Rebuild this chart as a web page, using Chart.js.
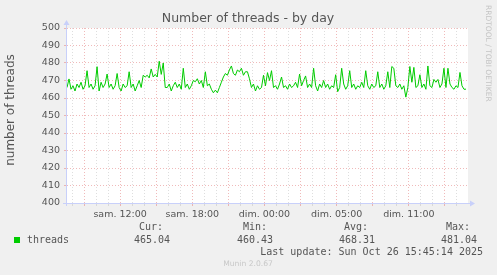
<!DOCTYPE html>
<html>
<head>
<meta charset="utf-8">
<script src="https://cdn.jsdelivr.net/npm/chart.js@4.4.0/dist/chart.umd.min.js"></script>
<style>
html, body { margin: 0; padding: 0; background: #F0F0F0; }
canvas { display: block; }
</style>
</head>
<body>
<canvas id="threadsChart" width="497" height="275"></canvas>
<script>
// one value every 10 minutes (2 steps of 5 min), left to right
var threadValues = [
  466, 470.9, 465, 467, 464, 468, 466, 469, 465, 467,
  475.6, 466, 468, 465, 467, 477.9, 464, 469, 466, 468,
  473.7, 466, 468, 465, 467, 474, 466, 464, 468, 466,
  467, 475, 466, 468, 464, 467, 470, 466, 473, 472,
  473, 471.5, 476.6, 472, 473.5, 472, 481, 473.5, 480, 466,
  466, 468, 464, 467, 469, 466, 468, 465, 477, 466,
  468, 465, 467, 470, 469.3, 471, 468, 470, 466, 475,
  467, 468, 465, 463, 464.5, 463, 466, 469, 472, 474,
  473, 476, 478.3, 474, 473, 476, 475, 477, 473, 475,
  475, 471, 466, 468, 464, 467, 465, 466, 473, 467,
  474.5, 470, 475.6, 466, 467, 465, 468, 472, 466, 467,
  465, 468, 466, 467, 469, 466, 473.7, 467, 470, 472.6,
  466, 468, 466, 477, 467, 464, 468, 466, 470, 466,
  468, 465, 467, 466, 473.3, 463.6, 466, 477, 468, 465,
  467, 475.6, 466, 468, 465, 467, 466, 469, 466, 475.6,
  467, 465, 468, 466, 467, 475, 466, 468, 465, 467,
  475, 466, 478, 477, 467, 466, 468, 465, 467, 460.5,
  466, 478, 469, 477.5, 466, 467, 473.3, 466, 468, 465,
  478.3, 467, 466, 470.6, 469, 470.6, 466, 468, 477, 466,
  477, 468, 466, 465, 467, 466, 474.6, 467, 465, 465.04
];
var xTickLabels = ['sam. 12:00', 'sam. 18:00', 'dim. 00:00', 'dim. 05:00', 'dim. 11:00'];
var xLabelSteps = [53, 125, 197, 269, 341];   // 5-minute steps from the left edge
var statNames = ['Cur:', 'Min:', 'Avg:', 'Max:'];
var statValues = ['465.04', '460.43', '468.31', '481.04'];
var seriesName = 'threads';
var lastUpdate = 'Last update: Sun Oct 26 15:45:14 2025';

var RED = 'rgba(230,140,140,0.6)';
var GREY = 'rgba(200,200,200,0.6)';
var AXIS = '#C8D0FA';
var TXT = '#555555';

var points = threadValues.map(function (v, i) { return { x: i * 2, y: v }; });

function isMajorX(v) { return (v - 17) % 36 === 0; }

var muninPlugin = {
  id: 'munin',
  beforeDraw: function (chart) {
    var a = chart.chartArea, ctx = chart.ctx;
    ctx.save();
    ctx.fillStyle = '#FFFFFF';
    ctx.fillRect(a.left, a.top, a.right - a.left, a.bottom - a.top);
    ctx.restore();
  },
  afterDraw: function (chart) {
    var a = chart.chartArea, ctx = chart.ctx;
    ctx.save();
    // axes with arrows
    ctx.strokeStyle = AXIS;
    ctx.fillStyle = AXIS;
    ctx.lineWidth = 1;
    ctx.beginPath();
    ctx.moveTo(a.left - 0.5, a.bottom + 3);
    ctx.lineTo(a.left - 0.5, a.top - 4);
    ctx.moveTo(a.left - 4, a.bottom + 0.5);
    ctx.lineTo(a.right + 3, a.bottom + 0.5);
    ctx.stroke();
    ctx.beginPath();
    ctx.moveTo(a.left - 3.5, a.top - 3);
    ctx.lineTo(a.left + 2.5, a.top - 3);
    ctx.lineTo(a.left - 0.5, a.top - 8);
    ctx.closePath();
    ctx.fill();
    ctx.beginPath();
    ctx.moveTo(a.right + 2, a.bottom - 2.5);
    ctx.lineTo(a.right + 2, a.bottom + 3.5);
    ctx.lineTo(a.right + 7, a.bottom + 0.5);
    ctx.closePath();
    ctx.fill();

    // title
    ctx.fillStyle = TXT;
    ctx.textBaseline = 'middle';
    ctx.textAlign = 'center';
    ctx.font = '12.5px "DejaVu Sans"';
    ctx.fillText('Number of threads - by day', 248, 19);

    // y axis title
    ctx.save();
    ctx.translate(11, 110);
    ctx.rotate(-Math.PI / 2);
    ctx.font = '12px "DejaVu Sans"';
    ctx.fillText('number of threads', 0, 0);
    ctx.restore();

    // side watermark
    ctx.save();
    ctx.translate(488, 5);
    ctx.rotate(Math.PI / 2);
    ctx.textAlign = 'left';
    ctx.fillStyle = '#C4C4C4';
    ctx.font = '7.5px "DejaVu Sans"';
    ctx.fillText('RRDTOOL / TOBI OETIKER', 0, 0);
    ctx.restore();

    // legend & stats
    ctx.font = '10px "DejaVu Sans Mono"';
    ctx.fillStyle = TXT;
    var labelRight = [163, 267, 368, 470];
    var valueRight = [170, 273, 375, 477];
    ctx.textAlign = 'right';
    for (var i = 0; i < statNames.length; i++) {
      ctx.fillText(statNames[i], labelRight[i], 227);
      ctx.fillText(statValues[i], valueRight[i], 240);
    }
    ctx.fillText(lastUpdate, 483, 252);
    ctx.textAlign = 'left';
    ctx.fillText(seriesName, 27, 240);
    ctx.fillStyle = '#00CC00';
    ctx.fillRect(14, 237, 6, 6);

    ctx.fillStyle = '#C8C8C8';
    ctx.textAlign = 'center';
    ctx.font = '7.6px "DejaVu Sans"';
    ctx.fillText('Munin 2.0.67', 248, 264);
    ctx.restore();
  }
};

var ctx = document.getElementById('threadsChart');
var threadsChart = new Chart(ctx, {
  type: 'line',
  data: {
    datasets: [{
      label: seriesName,
      data: points,
      borderColor: '#00CC00',
      borderWidth: 1,
      pointRadius: 0,
      tension: 0,
      fill: false
    }]
  },
  options: {
    responsive: false,
    animation: false,
    devicePixelRatio: 1,
    layout: { padding: { left: 0, top: 28, right: 29, bottom: 0 } },
    plugins: { legend: { display: false }, title: { display: false }, tooltip: { enabled: false } },
    scales: {
      x: {
        type: 'linear',
        min: 0,
        max: 400,
        afterBuildTicks: function (scale) {
          var t = [];
          for (var v = 5; v < 400; v += 12) t.push({ value: v });
          scale.ticks = t;
        },
        afterFit: function (scale) { scale.height = 72; },
        grid: {
          color: function (c) { return isMajorX(c.tick.value) ? RED : GREY; },
          tickColor: function (c) { return isMajorX(c.tick.value) ? RED : GREY; },
          tickLength: 3,
          lineWidth: 1
        },
        border: { display: false, dash: [1, 2] },
        ticks: {
          autoSkip: false,
          maxRotation: 0,
          padding: 3,
          color: TXT,
          font: { family: 'DejaVu Sans', size: 9.5 },
          callback: function (v) {
            var k = xLabelSteps.indexOf(v);
            return k < 0 ? '' : xTickLabels[k];
          }
        }
      },
      y: {
        min: 400,
        max: 500,
        afterFit: function (scale) { scale.width = 67; },
        grid: {
          color: function (c) { return c.tick.value % 10 === 0 ? RED : GREY; },
          tickColor: function (c) { return c.tick.value % 10 === 0 ? RED : GREY; },
          tickLength: 3,
          lineWidth: 1
        },
        border: { display: false, dash: [1, 2] },
        ticks: {
          stepSize: 5,
          padding: 4,
          color: TXT,
          font: { family: 'DejaVu Sans', size: 9.5 },
          callback: function (v) { return v % 10 === 0 ? String(v) : ''; }
        }
      }
    }
  },
  plugins: [muninPlugin]
});
</script>
</body>
</html>
